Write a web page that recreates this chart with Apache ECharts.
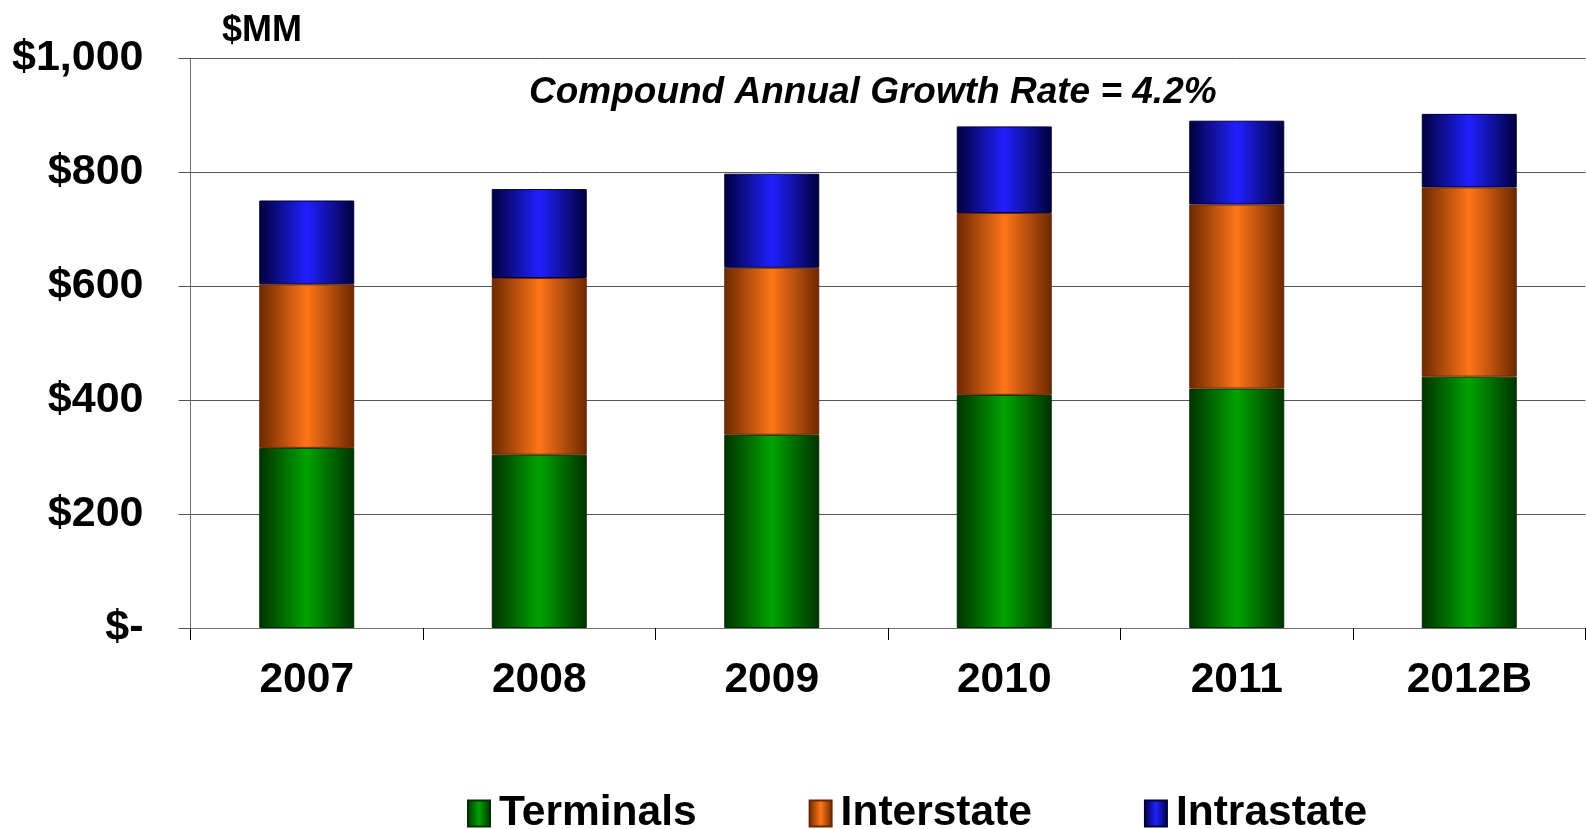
<!DOCTYPE html>
<html>
<head>
<meta charset="utf-8">
<script src="https://cdn.jsdelivr.net/npm/echarts@6/dist/echarts.min.js"></script>
<style>
  html, body { margin: 0; padding: 0; background: #fff; }
  #main { width: 1587px; height: 829px; }
</style>
</head>
<body>
<div id="main"></div>
<script>
const years = ['2007', '2008', '2009', '2010', '2011', '2012B'];
const terminals = [316, 304, 339, 409, 420, 441];
const interstate = [287, 310, 293, 319, 323, 332];
const intrastate = [147, 156, 165, 152, 147, 129];
const yTickLabels = ['$-', '$200', '$400', '$600', '$800', '$1,000'];

const chart = echarts.init(document.getElementById('main'));
const font = '"Liberation Sans", Arial, sans-serif';

// dark edge -> bright middle -> dark edge, like the cylinder shading
function shade(edge, mid) {
    return new echarts.graphic.LinearGradient(0, 0, 1, 0, [
        { offset: 0, color: edge },
        { offset: 0.5, color: mid },
        { offset: 1, color: edge }
    ]);
}

function barSeries(name, data, edge, mid, border) {
    return {
        name: name,
        type: 'bar',
        stack: 'total',
        barWidth: 95,
        data: data,
        itemStyle: { color: shade(edge, mid), borderColor: border, borderWidth: 1 }
    };
}

const option = {
    animation: false,
    textStyle: { fontFamily: font },
    title: [
        {
            text: '$MM',
            left: 217, top: 8,
            textStyle: { fontFamily: font, fontSize: 36, fontWeight: 'bold', color: '#000' }
        },
        {
            text: 'Compound Annual Growth Rate = 4.2%',
            left: 524, top: 69,
            textStyle: { fontFamily: font, fontSize: 37, fontWeight: 'bold', fontStyle: 'italic', color: '#000' }
        }
    ],
    grid: { left: 190.5, right: 1.5, top: 58, bottom: 201, containLabel: false },
    legend: {
        left: 462, top: 787,
        icon: 'rect',
        itemWidth: 22, itemHeight: 26, itemGap: 112,
        textStyle: { fontFamily: font, fontSize: 42.5, fontWeight: 'bold', color: '#000', padding: [0, 0, 0, 4] },
        data: ['Terminals', 'Interstate', 'Intrastate']
    },
    xAxis: {
        type: 'category',
        data: years,
        axisLine: { lineStyle: { color: '#707070', width: 1 } },
        axisTick: { show: true, length: 12, lineStyle: { color: '#000' } },
        axisLabel: { margin: 31, fontFamily: font, fontSize: 42.5, fontWeight: 'bold', color: '#000' }
    },
    yAxis: {
        type: 'value',
        min: 0, max: 1000, interval: 200,
        axisLine: { show: true, lineStyle: { color: '#707070', width: 1 } },
        axisTick: { show: true, length: 12, lineStyle: { color: '#555' } },
        splitLine: { lineStyle: { color: '#555', width: 1 } },
        axisLabel: {
            margin: 47, fontFamily: font, fontSize: 43, fontWeight: 'bold', color: '#000',
            formatter: (v) => yTickLabels[Math.round(v / 200)]
        }
    },
    series: [
        barSeries('Terminals', terminals, '#003200', '#00a300', '#003000'),
        barSeries('Interstate', interstate, '#6c2800', '#ff7518', '#6a2800'),
        barSeries('Intrastate', intrastate, '#00003c', '#2020ff', '#00003a')
    ]
};

chart.setOption(option);
</script>
</body>
</html>
